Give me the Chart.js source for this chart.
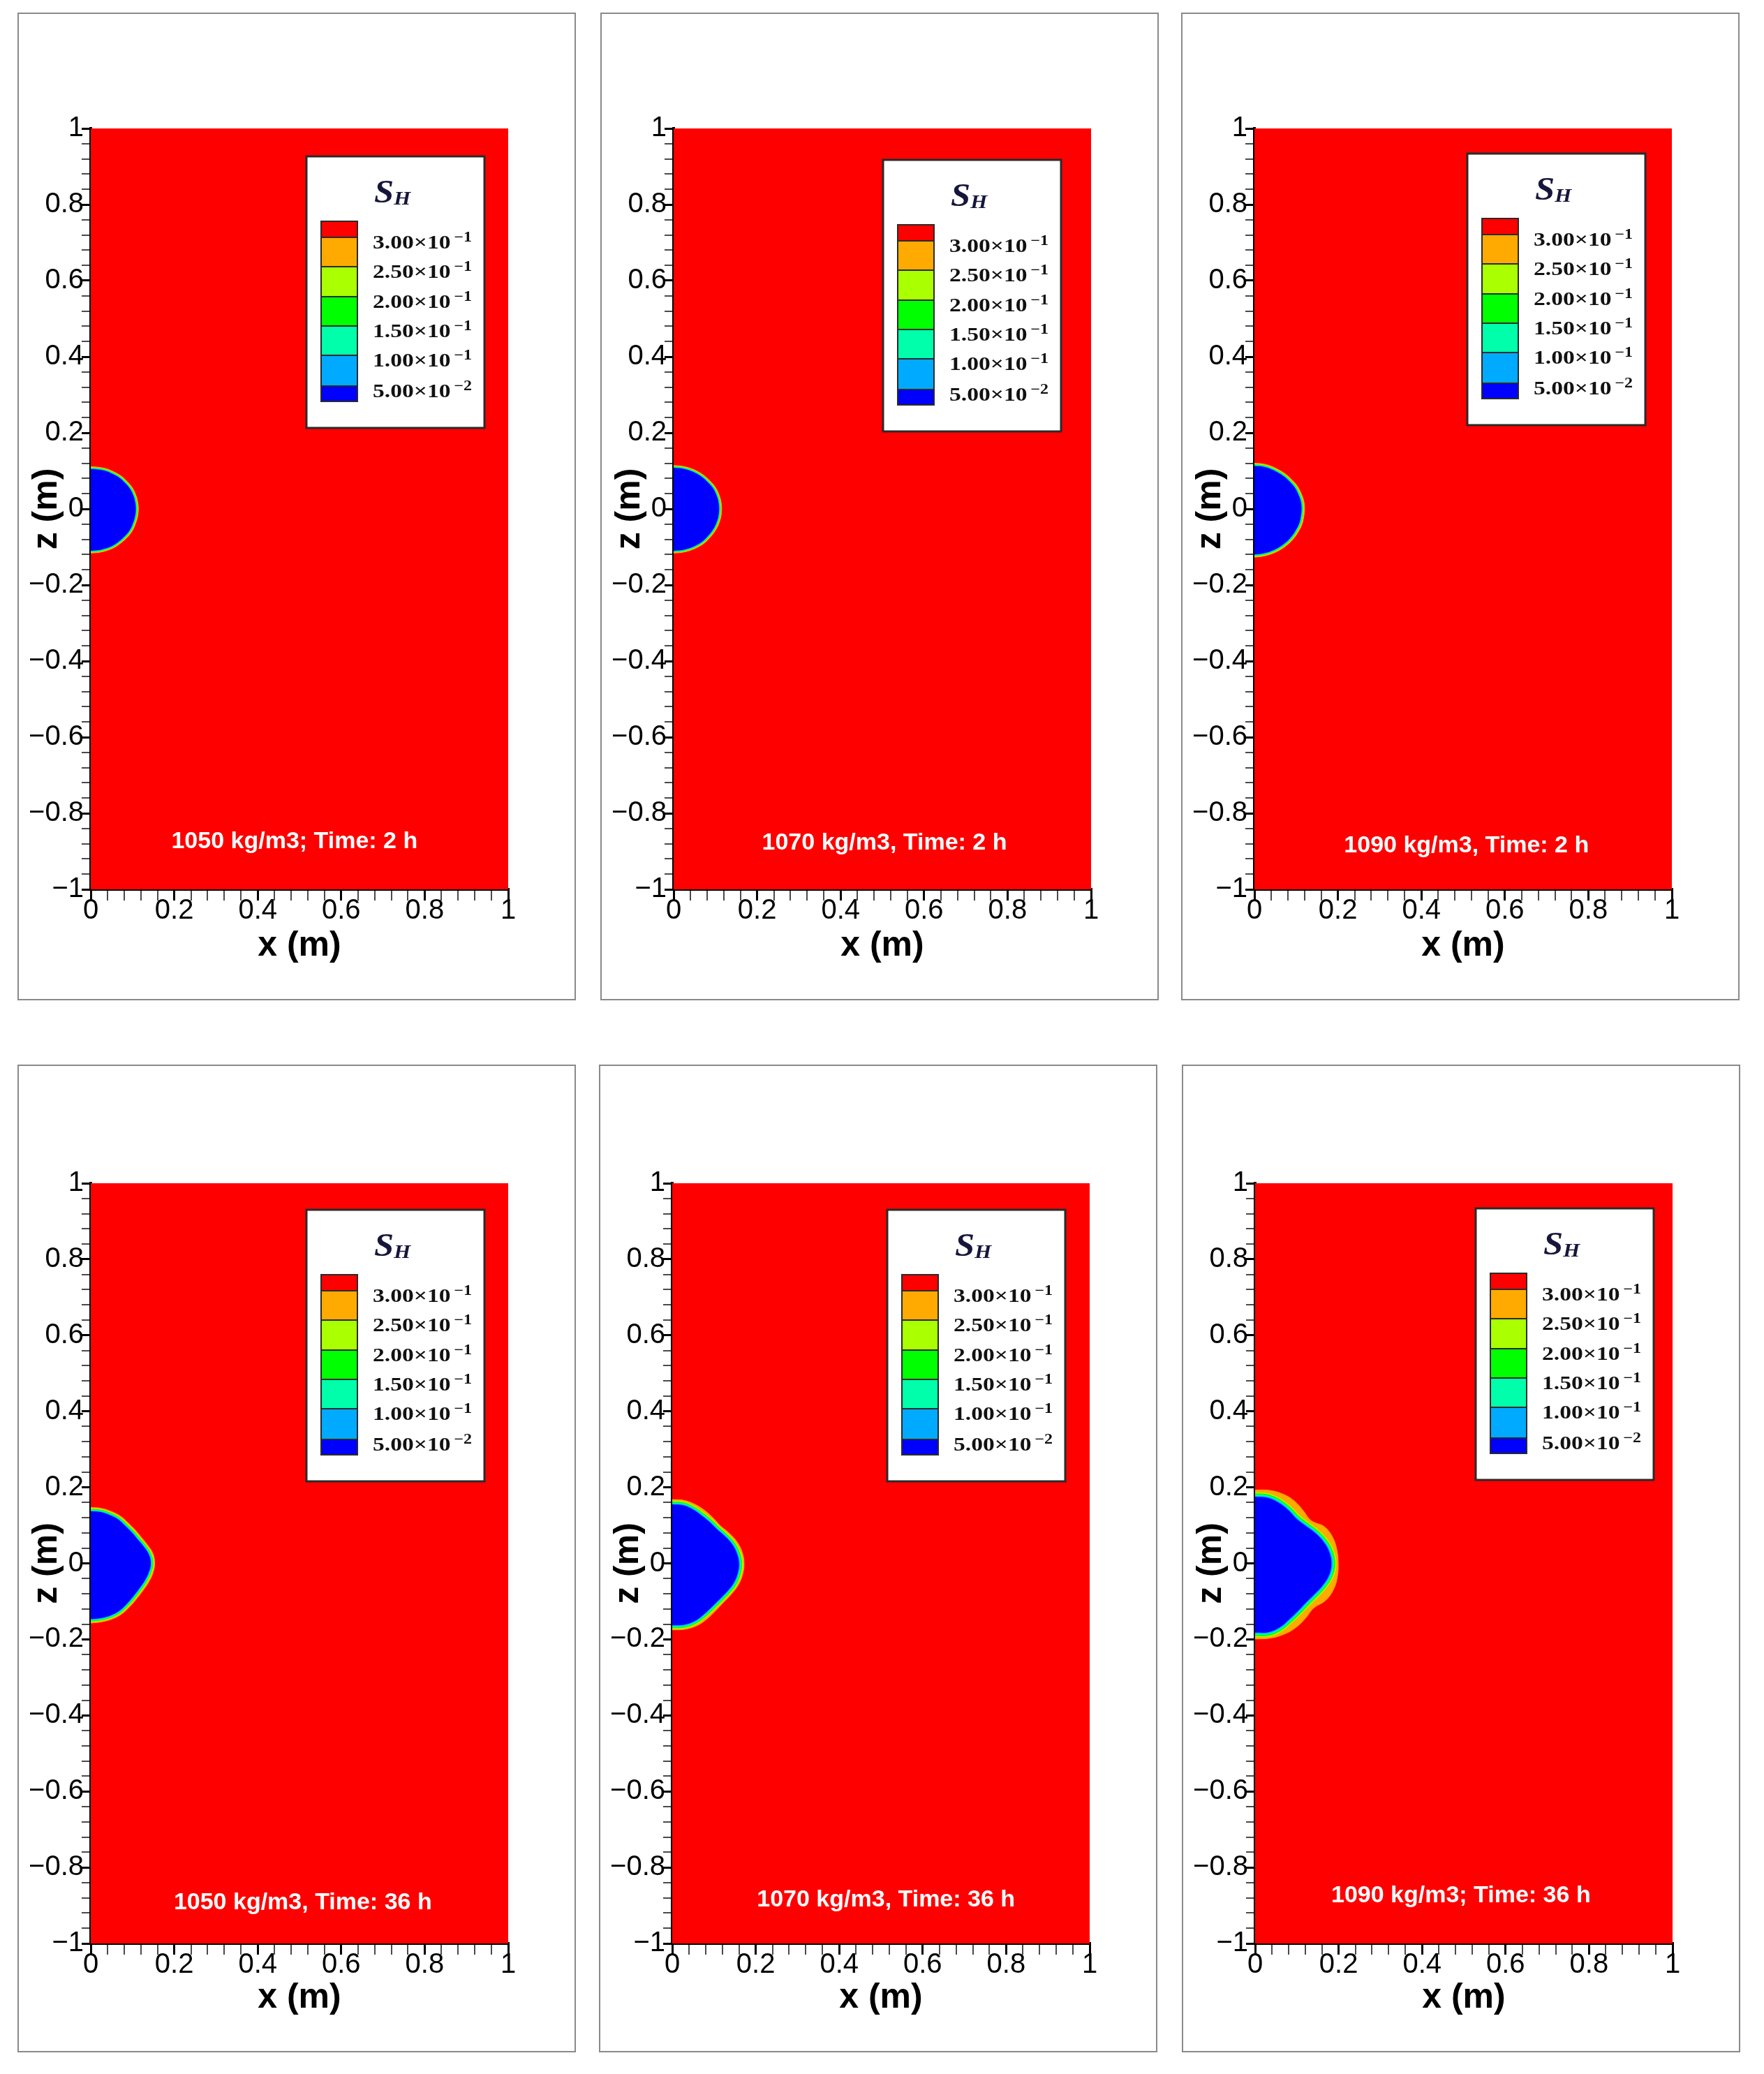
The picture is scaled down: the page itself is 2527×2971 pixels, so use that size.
<!DOCTYPE html>
<html lang="en">
<head>
<meta charset="UTF-8">
<title>Hydrate saturation contours</title>
<style>
  body { margin: 0; background: #fff; width: 2527px; height: 2971px; position: relative; overflow: hidden; }
  .panel { position: absolute; width: 796px; height: 1411px; outline: 2px solid #8a8a8a; }
  .panel canvas { display: block; }
</style>
<script src="https://cdn.jsdelivr.net/npm/chart.js"></script>
</head>
<body>
<div class="panel" style="left:27px;top:20px"><canvas id="c0" width="796" height="1411"></canvas></div>
<div class="panel" style="left:862px;top:20px"><canvas id="c1" width="796" height="1411"></canvas></div>
<div class="panel" style="left:1694px;top:20px"><canvas id="c2" width="796" height="1411"></canvas></div>
<div class="panel" style="left:27px;top:1527px"><canvas id="c3" width="796" height="1411"></canvas></div>
<div class="panel" style="left:860px;top:1527px"><canvas id="c4" width="796" height="1411"></canvas></div>
<div class="panel" style="left:1695px;top:1527px"><canvas id="c5" width="796" height="1411"></canvas></div>
<script>
// polar angles (deg) at which the contour radii were read, +x = 0, +z = 90
const angles = [90, 80, 70, 60, 50, 40, 30, 20, 10, 0, -10, -20, -30, -40, -50, -60, -70, -80, -90];

// radius of the 0.05 contour (blue core), in metres
const core1050_2h  = [0.104, 0.104, 0.105, 0.105, 0.106, 0.106, 0.107, 0.107, 0.107, 0.107, 0.107, 0.107, 0.108, 0.108, 0.108, 0.109, 0.109, 0.109, 0.109];
const core1070_2h  = [0.107, 0.107, 0.107, 0.107, 0.107, 0.107, 0.108, 0.108, 0.108, 0.108, 0.108, 0.108, 0.108, 0.108, 0.109, 0.109, 0.109, 0.109, 0.109];
const core1090_2h  = [0.112, 0.112, 0.111, 0.110, 0.110, 0.110, 0.111, 0.111, 0.112, 0.112, 0.112, 0.113, 0.113, 0.114, 0.115, 0.116, 0.117, 0.118, 0.119];
const core1050_36h = [0.136, 0.136, 0.134, 0.132, 0.128, 0.127, 0.128, 0.133, 0.140, 0.143, 0.140, 0.136, 0.133, 0.133, 0.136, 0.141, 0.144, 0.145, 0.146];
const core1070_36h = [0.154, 0.154, 0.149, 0.143, 0.140, 0.139, 0.144, 0.151, 0.156, 0.159, 0.158, 0.155, 0.150, 0.147, 0.148, 0.153, 0.160, 0.163, 0.162];
const core1090_36h = [0.174, 0.174, 0.168, 0.160, 0.153, 0.155, 0.163, 0.172, 0.179, 0.182, 0.179, 0.171, 0.163, 0.159, 0.161, 0.167, 0.177, 0.183, 0.181];

// radius of the 0.30 contour (outer edge of the orange band)
const edge1050_2h  = [0.111, 0.111, 0.112, 0.112, 0.113, 0.113, 0.114, 0.114, 0.114, 0.114, 0.114, 0.114, 0.115, 0.115, 0.115, 0.116, 0.116, 0.116, 0.116];
const edge1070_2h  = [0.114, 0.114, 0.114, 0.114, 0.114, 0.114, 0.115, 0.115, 0.115, 0.115, 0.115, 0.115, 0.115, 0.115, 0.116, 0.116, 0.116, 0.116, 0.116];
const edge1090_2h  = [0.120, 0.120, 0.119, 0.118, 0.118, 0.118, 0.119, 0.119, 0.120, 0.120, 0.120, 0.121, 0.121, 0.122, 0.123, 0.124, 0.125, 0.126, 0.127];
const edge1050_36h = [0.147, 0.147, 0.145, 0.143, 0.139, 0.138, 0.139, 0.144, 0.151, 0.153, 0.151, 0.147, 0.144, 0.144, 0.147, 0.152, 0.155, 0.156, 0.157];
const edge1070_36h = [0.168, 0.168, 0.164, 0.159, 0.154, 0.152, 0.158, 0.165, 0.170, 0.172, 0.171, 0.168, 0.163, 0.160, 0.162, 0.168, 0.174, 0.176, 0.175];
const edge1090_36h = [0.193, 0.195, 0.194, 0.189, 0.180, 0.175, 0.192, 0.198, 0.199, 0.199, 0.200, 0.200, 0.195, 0.183, 0.188, 0.195, 0.199, 0.200, 0.199];

// distance of the 0.10, 0.15, 0.20, 0.25 contours outside the core
const rim1050_2h  = [0.0012, 0.0025, 0.0038, 0.005];
const rim1070_2h  = [0.0012, 0.0025, 0.0038, 0.005];
const rim1090_2h  = [0.0014, 0.0028, 0.0042, 0.0056];
const rim1050_36h = [0.002, 0.004, 0.006, 0.008];
const rim1070_36h = [0.0025, 0.005, 0.0075, 0.010];
const rim1090_36h = [0.003, 0.006, 0.009, 0.012];

const levels = [0.30, 0.25, 0.20, 0.15, 0.10, 0.05];
const bandColors = ['#ff0000', '#ffaa00', '#aaff00', '#00ff00', '#00ffaa', '#00aaff', '#0000ff'];
const notes = ['1050 kg/m3; Time: 2 h', '1070 kg/m3, Time: 2 h', '1090 kg/m3, Time: 2 h',
               '1050 kg/m3, Time: 36 h', '1070 kg/m3, Time: 36 h', '1090 kg/m3; Time: 36 h'];

const domainX = [0, 1];
const domainZ = [-1, 1];
const xTickVals = [0, 0.2, 0.4, 0.6, 0.8, 1];
const xTickLabels = ['0', '0.2', '0.4', '0.6', '0.8', '1'];
const zTickVals = [-1, -0.8, -0.6, -0.4, -0.2, 0, 0.2, 0.4, 0.6, 0.8, 1];
const zTickLabels = ['\u22121', '\u22120.8', '\u22120.6', '\u22120.4', '\u22120.2', '0', '0.2', '0.4', '0.6', '0.8', '1'];
const minorStep = 0.04;

// layout (not data)
const topPad = [164, 164, 164, 168, 168, 168];
const keyX = [0.517, 0.502, 0.510, 0.517, 0.515, 0.528];
const keyZ = [0.927, 0.917, 0.934, 0.930, 0.930, 0.934];
const noteX = [0.488, 0.505, 0.508, 0.508, 0.512, 0.493];
const noteZ = [-0.875, -0.878, -0.885, -0.892, -0.886, -0.875];

const panels = [
  { core: core1050_2h, edge: edge1050_2h, rim: rim1050_2h },
  { core: core1070_2h, edge: edge1070_2h, rim: rim1070_2h },
  { core: core1090_2h, edge: edge1090_2h, rim: rim1090_2h },
  { core: core1050_36h, edge: edge1050_36h, rim: rim1050_36h },
  { core: core1070_36h, edge: edge1070_36h, rim: rim1070_36h },
  { core: core1090_36h, edge: edge1090_36h, rim: rim1090_36h }
];

function contour(radii, offset) {
  return radii.map((r, i) => {
    const a = angles[i] * Math.PI / 180;
    const rr = r + offset;
    return { x: rr * Math.cos(a), y: rr * Math.sin(a) };
  });
}

function band(points, color, tension) {
  return { data: points, backgroundColor: color, borderColor: color, borderWidth: 1,
           fill: 'shape', pointRadius: 0, tension: tension, clip: 0 };
}

function stepTicks(lo, hi) {
  const out = [];
  const n = Math.round((hi - lo) / minorStep);
  for (let i = 0; i <= n; i++) out.push({ value: +(lo + i * minorStep).toFixed(6) });
  return out;
}

function majorIndex(vals, v) {
  return vals.findIndex(m => Math.abs(m - v) < 1e-6);
}

function axisOpts(vals, labels, lo, hi, tickLen, pad) {
  return {
    type: 'linear', min: lo, max: hi,
    afterBuildTicks: s => { s.ticks = stepTicks(lo, hi); },
    ticks: {
      autoSkip: false, maxRotation: 0, minRotation: 0, padding: pad, color: '#000',
      font: { family: 'Liberation Sans', size: 40 },
      callback: v => { const k = majorIndex(vals, v); return k < 0 ? '' : labels[k]; }
    },
    grid: {
      drawOnChartArea: false, drawTicks: true, tickLength: tickLen,
      color: c => (c.tick && majorIndex(vals, c.tick.value) >= 0) ? '#000' : '#4a4a4a',
      lineWidth: c => (c.tick && majorIndex(vals, c.tick.value) >= 0) ? 3 : 2
    },
    border: { display: true, color: '#000', width: 4 }
  };
}

function drawKey(chart, i) {
  const ctx = chart.ctx;
  const x0 = Math.round(chart.scales.x.getPixelForValue(keyX[i]));
  const y0 = Math.round(chart.scales.y.getPixelForValue(keyZ[i]));
  const w = 255, h = 389;
  ctx.save();
  ctx.fillStyle = '#fff';
  ctx.fillRect(x0, y0, w, h);
  ctx.lineWidth = 3;
  ctx.strokeStyle = '#2a2a2a';
  ctx.strokeRect(x0, y0, w, h);

  // title S_H
  ctx.fillStyle = '#16163c';
  ctx.textBaseline = 'alphabetic';
  ctx.save();
  ctx.translate(x0 + 97, y0 + 66);
  ctx.scale(1.1, 1);
  ctx.font = 'italic bold 46px "Liberation Serif"';
  ctx.fillText('S', 0, 0);
  const sw = ctx.measureText('S').width;
  ctx.font = 'italic bold 28px "Liberation Serif"';
  ctx.fillText('H', sw, 3);
  ctx.restore();

  // colour swatches
  const heights = [23, 42, 43, 42, 42, 44, 22];
  const sx = x0 + 21, sw2 = 52;
  let y = y0 + 93;
  const bounds = [];
  heights.forEach((hh, k) => {
    ctx.fillStyle = bandColors[k];
    ctx.fillRect(sx, y, sw2, hh);
    y += hh;
    if (k < heights.length - 1) bounds.push(y);
  });
  ctx.lineWidth = 2;
  ctx.strokeStyle = '#2a2a2a';
  ctx.strokeRect(sx, y0 + 93, sw2, y - (y0 + 93));
  ctx.beginPath();
  bounds.forEach(b => { ctx.moveTo(sx, b); ctx.lineTo(sx + sw2, b); });
  ctx.stroke();

  // level labels
  ctx.fillStyle = '#111';
  ctx.textBaseline = 'middle';
  levels.forEach((v, k) => {
    const parts = v.toExponential(2).split('e');
    const main = parts[0] + '\u00d710';
    const exp = parts[1].replace('-', '\u2212').replace('+', '');
    ctx.save();
    ctx.translate(x0 + 95, bounds[k] + 9);
    ctx.scale(1.2, 1);
    ctx.font = 'bold 28px "Liberation Serif"';
    ctx.fillText(main, 0, 0);
    const mw = ctx.measureText(main).width;
    ctx.font = 'bold 20px "Liberation Serif"';
    ctx.fillText(exp, mw + 4, -8);
    ctx.restore();
  });
  ctx.restore();
}

function drawNote(chart, i) {
  const ctx = chart.ctx;
  ctx.save();
  ctx.fillStyle = '#fff';
  ctx.font = 'bold 34px "Liberation Sans"';
  ctx.textAlign = 'center';
  ctx.textBaseline = 'middle';
  ctx.fillText(notes[i], chart.scales.x.getPixelForValue(noteX[i]), chart.scales.y.getPixelForValue(noteZ[i]));
  ctx.restore();
}

panels.forEach((p, i) => {
  const field = [
    { x: domainX[0], y: domainZ[0] }, { x: domainX[1], y: domainZ[0] },
    { x: domainX[1], y: domainZ[1] }, { x: domainX[0], y: domainZ[1] }
  ];
  const datasets = [
    band(contour(p.core, 0), bandColors[6], 0.4),
    band(contour(p.core, p.rim[0]), bandColors[5], 0.4),
    band(contour(p.core, p.rim[1]), bandColors[4], 0.4),
    band(contour(p.core, p.rim[2]), bandColors[3], 0.4),
    band(contour(p.core, p.rim[3]), bandColors[2], 0.4),
    band(contour(p.edge, 0), bandColors[1], 0.4),
    band(field, bandColors[0], 0)
  ];
  const xAxis = axisOpts(xTickVals, xTickLabels, domainX[0], domainX[1], 16, -9);
  xAxis.position = 'bottom';
  xAxis.afterFit = s => { s.height = 1411 - topPad[i] - (i < 3 ? 1090 : 1089); };
  xAxis.title = { display: true, text: 'x (m)', color: '#000', padding: { top: 0, bottom: 46 },
                  font: { family: 'Liberation Sans', size: 50, weight: 'bold', lineHeight: 1.2 } };
  const yAxis = axisOpts(zTickVals, zTickLabels, domainZ[0], domainZ[1], 13, -3);
  yAxis.position = 'left';
  yAxis.afterFit = s => { s.width = 103; };
  yAxis.title = { display: true, text: 'z (m)', color: '#000', padding: { top: 10, bottom: 0 },
                  font: { family: 'Liberation Sans', size: 50, weight: 'bold', lineHeight: 1.2 } };

  new Chart(document.getElementById('c' + i), {
    type: 'line',
    data: { datasets: datasets },
    options: {
      responsive: false,
      animation: false,
      events: [],
      layout: { padding: { left: 0, top: topPad[i], right: 95, bottom: 0 } },
      scales: { x: xAxis, y: yAxis },
      plugins: { legend: { display: false }, tooltip: { enabled: false } }
    },
    plugins: [{
      id: 'overlay' + i,
      afterDatasetsDraw: chart => { drawNote(chart, i); drawKey(chart, i); }
    }]
  });
});
</script>
</body>
</html>
